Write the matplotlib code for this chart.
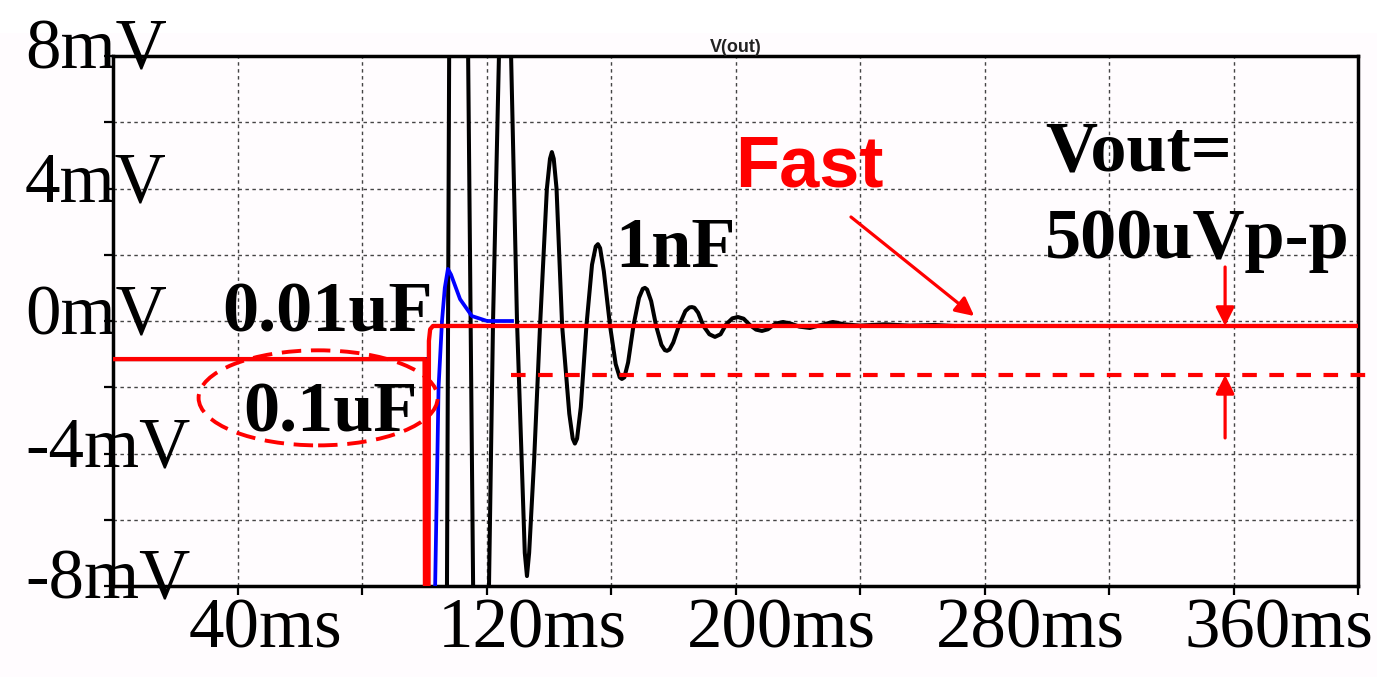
import matplotlib
matplotlib.use("Agg")
import matplotlib.pyplot as plt
from matplotlib.patches import Ellipse, Rectangle
from matplotlib.transforms import ScaledTranslation

# V(out), time in ms, voltage in mV
t_1nf = [0, 100.6, 100.9, 104.0, 107.3, 108.0, 111.0, 114.1, 115.7, 118.2,
         120.8, 122.1, 124.0, 126.0, 127.9, 129.8, 132.3, 133.0, 133.7, 135.3,
         137.2, 139.4, 140.4, 141.0, 141.6, 142.5, 144.3, 146.6, 147.7, 148.4,
         149.1, 150.3, 152.1, 153.9, 155.1, 155.8, 156.5, 157.7, 159.7, 161.5,
         162.8, 163.5, 164.3, 165.5, 167.2, 169.0, 170.2, 170.9, 171.6, 172.9,
         174.5, 176.2, 177.3, 178.0, 178.8, 180.0, 181.8, 183.9, 185.2, 186.0,
         186.8, 188.0, 189.7, 191.6, 193.4, 195.2, 197.0, 199.0, 200.8, 202.6,
         204.6, 206.6, 208.5, 210.4, 212.8, 215.3, 217.8, 220.5, 223.9, 227.5,
         231.3, 235.0, 240.0, 248.0, 256.0, 264.0, 270.0]
v_1nf = [-1.15, -1.15, -12, -30, -8, 8, 30, 8, -8, -30,
         -8, 0, 8, 20, 8, 0, -7.0, -7.7, -7.0, -4.2,
         -0.15, 4.0, 4.9, 5.1, 4.9, 4.0, -0.15, -2.8, -3.55, -3.7,
         -3.55, -2.6, -0.15, 1.7, 2.25, 2.32, 2.2, 1.5, -0.15, -1.3,
         -1.7, -1.75, -1.7, -1.25, -0.15, 0.7, 0.97, 1.0, 0.95, 0.6,
         -0.15, -0.72, -0.88, -0.9, -0.86, -0.65, -0.15, 0.3, 0.41, 0.42,
         0.4, 0.25, -0.15, -0.4, -0.48, -0.4, -0.1, 0.08, 0.12, 0.07,
         -0.12, -0.26, -0.3, -0.25, -0.08, -0.03, -0.08, -0.17, -0.21, -0.12,
         -0.03, -0.1, -0.14, -0.1, -0.14, -0.12, -0.15]

t_10nf = [0, 100.3, 100.6, 102.0, 103.5, 104.6, 105.7, 106.6, 107.6, 108.6,
          111.5, 115.3, 120.2, 128.2]
v_10nf = [-1.15, -1.15, -12, -20, -8, -2, 0, 1.0, 1.57, 1.4,
          0.66, 0.15, 0.0, 0.0]

t_100nf = [0, 100.1, 100.3, 101.3, 101.5, 101.9, 102.8, 400]
v_100nf = [-1.15, -1.15, -12, -12, -0.6, -0.25, -0.15, -0.15]

# ripple band of the fast response
ripple_top = -0.15
ripple_bottom = -1.63
ripple_start, ripple_end = 128, 406

x_ticks = list(range(0, 401, 40))
x_label_at = [40, 120, 200, 280, 360]
x_labels = ["40ms", "120ms", "200ms", "280ms", "360ms"]
y_ticks = list(range(-8, 9, 2))
y_label_at = [8, 4, 0, -4, -8]
y_labels = ["8mV", "4mV", "0mV", "-4mV", "-8mV"]

SERIF = "Liberation Serif"
SANS = "Liberation Sans"
RED = "#ff0000"

fig = plt.figure(figsize=(13.77, 6.77), dpi=100, facecolor="#fffcfe")
fig.patches.append(Rectangle((0, 1 - 33 / 677), 1, 33 / 677, transform=fig.transFigure,
                             facecolor="white", edgecolor="none", zorder=-10))
ax = fig.add_axes([113 / 1377, 91 / 677, 1245 / 1377, 530 / 677])
ax.set_facecolor("#fffcfe")

ax.plot(t_1nf, v_1nf, color="black", lw=2.9, zorder=3)
ax.plot(t_10nf, v_10nf, color="#0000ff", lw=2.7, zorder=4)
ax.plot(t_100nf, v_100nf, color=RED, lw=3.1, zorder=5, solid_joinstyle="round")
ax.plot([ripple_start, ripple_end], [ripple_bottom, ripple_bottom], color=RED, lw=3.0,
        dashes=(3.5, 3), zorder=5, clip_on=False)

ax.set_xlim(0, 400)
ax.set_ylim(-8, 8)
ax.set_xticks(x_ticks)
ax.set_yticks(y_ticks)
ax.set_xticklabels([])
ax.set_yticklabels([])
ax.tick_params(direction="out", length=6.5, width=1.6, color="black")
ax.grid(True, color="#444444", lw=1.0, linestyle=(0, (2.5, 2.5)))
for sp in ax.spines.values():
    sp.set_linewidth(2.5)
ax.set_title("V(out)", fontsize=13, fontweight="bold", family=SANS, color="#222222", pad=2)

# axis labels sit as overlaid text, as in the original picture
y_off = ax.get_yaxis_transform() + ScaledTranslation(0, -0.13, fig.dpi_scale_trans)
for val, lab in zip(y_label_at, y_labels):
    ax.text(-88 / 1245, val, lab, transform=y_off, ha="left", va="baseline",
            fontsize=51, family=SERIF, clip_on=False, zorder=6)
x_off = ax.get_xaxis_transform() + ScaledTranslation(-0.49, 0, fig.dpi_scale_trans)
for val, lab in zip(x_label_at, x_labels):
    ax.text(val, -62 / 530, lab, transform=x_off, ha="left", va="baseline",
            fontsize=51, family=SERIF, clip_on=False, zorder=6)

note = dict(fontsize=52, fontweight="bold", family=SERIF, ha="left", va="baseline", zorder=6)
ax.text(35.0, -0.33, "0.01uF", **note)
ax.text(41.8, -3.35, "0.1uF", **note)
ax.text(161.3, 1.63, "1nF", **note)
ax.text(299.4, 4.53, "Vout=", **note)
ax.text(299.4, 1.9, "500uVp-p", **note)
ax.text(199.8, 4.05, "Fast", fontsize=52, fontweight="bold", family=SANS, color=RED,
        ha="left", va="baseline", zorder=6)

ax.add_patch(Ellipse((65.9, -2.32), 76.8, 2.87, fill=False, edgecolor=RED, lw=2.8,
                     linestyle=(0, (5, 2.5)), zorder=6, clip_on=False))

arrow = dict(arrowstyle="-|>", color=RED, lw=2.3, mutation_scale=28, shrinkA=0, shrinkB=0)
ax.annotate("", xy=(276.7, 0.15), xytext=(237.1, 3.14), arrowprops=arrow, zorder=6)
ax.annotate("", xy=(357.3, ripple_top), xytext=(357.3, 1.63), arrowprops=arrow, zorder=6)
ax.annotate("", xy=(357.3, ripple_bottom), xytext=(357.3, -3.53), arrowprops=arrow, zorder=6)

fig.savefig("out.png", dpi=100, facecolor=fig.get_facecolor())
